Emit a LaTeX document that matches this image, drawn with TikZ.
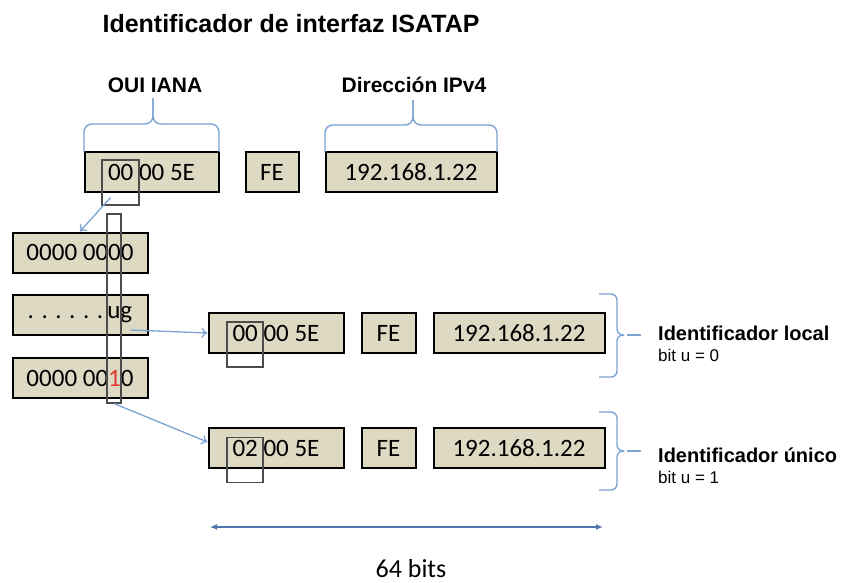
\documentclass[tikz,border=0pt]{standalone}
\usepackage{fontspec}
\setmainfont{Carlito}
\newfontfamily\headfont{Liberation Sans}
\usepackage{tikz}
\usetikzlibrary{arrows.meta}
\definecolor{fieldfill}{RGB}{221,217,195}
\definecolor{bracecol}{RGB}{125,162,212}
\definecolor{spancol}{RGB}{79,118,170}
\definecolor{bitred}{RGB}{225,55,50}

\begin{document}
\begin{tikzpicture}[x=1pt,y=-1pt]
\tikzset{field/.style=
            {draw,line width=2pt,fill=fieldfill,minimum height=40pt,inner sep=0pt,
             font=\fontsize{25}{30}\selectfont},
         hilite/.style=
            {draw=black!70,line width=1.1pt,inner sep=0pt},
         brace/.style=
            {draw=bracecol,line width=1.4pt,rounded corners=8pt},
         link/.style=
            {draw=bracecol,line width=1.3pt,-{To[length=6pt,width=10pt]}},
         heading/.style=
            {font=\headfont\bfseries\fontsize{21}{25}\selectfont,inner sep=0pt,anchor=base},
         note/.style=
            {font=\headfont\fontsize{17}{20}\selectfont,inner sep=0pt,anchor=base west}}
\useasboundingbox (0,0) rectangle (841,582);
\node[heading,font=\headfont\bfseries\fontsize{25}{30}\selectfont] (title) at (291,32) {Identificador de interfaz ISATAP};
\node[heading] (oui) at (155,92) {OUI IANA};
\node[heading] (ipv4) at (414,92) {Dirección IPv4};
\node[field,minimum width=134pt] (t1) at (151.5,172) {00 00 5E};
\node[field,minimum width=53pt] (t2) at (272,172) {FE};
\node[field,minimum width=171pt] (t3) at (411,172) {192.168.1.22};
\node[field,minimum width=135pt] (b0) at (80,252.5) {0000 0000};
\node[field,minimum width=135pt] (b1) at (80,315) {. . . . . .\,ug};
\node[field,minimum width=135pt] (b2) at (80,378) {0000 00{\color{bitred}1}0};
\node[field,minimum width=135pt] (m1) at (276,333) {00 00 5E};
\node[field,minimum width=54pt] (m2) at (388.5,333) {FE};
\node[field,minimum width=171pt] (m3) at (519,333) {192.168.1.22};
\node[field,minimum width=135pt] (n1) at (276,448) {02 00 5E};
\node[field,minimum width=54pt] (n2) at (388.5,448) {FE};
\node[field,minimum width=171pt] (n3) at (519,448) {192.168.1.22};
\node[hilite,minimum width=37pt,minimum height=45pt] (hiA) at (120.5,182.5) {};
\node[hilite,minimum width=36pt,minimum height=45pt] (hiB) at (245,344.5) {};
\node[hilite,minimum width=36pt,minimum height=45pt] (hiC) at (245,460) {};
\node[hilite,minimum width=14pt,minimum height=189pt] (tall) at (114,308.5) {};
\draw[brace] (84,152) -- (84,124) -- (153,124) -- (153,98);
\draw[brace] (219,152) -- (219,124) -- (153,124) -- (153,98);
\draw[brace] (325,152) -- (325,125) -- (413,125) -- (413,100);
\draw[brace] (497,152) -- (497,125) -- (413,125) -- (413,100);
\draw[brace,rounded corners=6pt] (599,294) -- (617,294) -- (617,335) -- (624,335);
\draw[brace,rounded corners=6pt] (599,377) -- (617,377) -- (617,335) -- (624,335);
\draw[brace,rounded corners=6pt] (599,412) -- (617,412) -- (617,451) -- (624,451);
\draw[brace,rounded corners=6pt] (599,490) -- (617,490) -- (617,451) -- (624,451);
\coordinate (locl) at (627,335);
\coordinate (locr) at (641,335);
\coordinate (unil) at (627,451);
\coordinate (unir) at (641,451);
\draw[brace] (locl) -- (locr);
\draw[brace] (unil) -- (unir);
\node[heading,anchor=base west,font=\headfont\bfseries\fontsize{20}{24}\selectfont] (local) at (658,340) {Identificador local};
\node[note] (bit0) at (658,361) {bit u = 0};
\node[heading,anchor=base west,font=\headfont\bfseries\fontsize{20}{24}\selectfont] (unico) at (658,462) {Identificador único};
\node[note] (bit1) at (658,483) {bit u = 1};
\draw[link] ([xshift=-10pt,yshift=8pt]hiA.south) -- (b0.north);
\draw[link] ([xshift=-18pt,yshift=-15pt]b1.east) -- (m1.west);
\draw[link] (tall.south) -- ([yshift=6pt]n1.west);
\coordinate (spanl) at (210,527);
\coordinate (spanr) at (603,527);
\draw[draw=spancol,line width=1.6pt,{Latex[length=7pt,width=6pt]}-{Latex[length=7pt,width=6pt]}] (spanl) -- (spanr);
\node[font=\fontsize{26}{30}\selectfont,inner sep=0pt,anchor=base] (bits) at (411,577) {64 bits};
\end{tikzpicture}
\end{document}
